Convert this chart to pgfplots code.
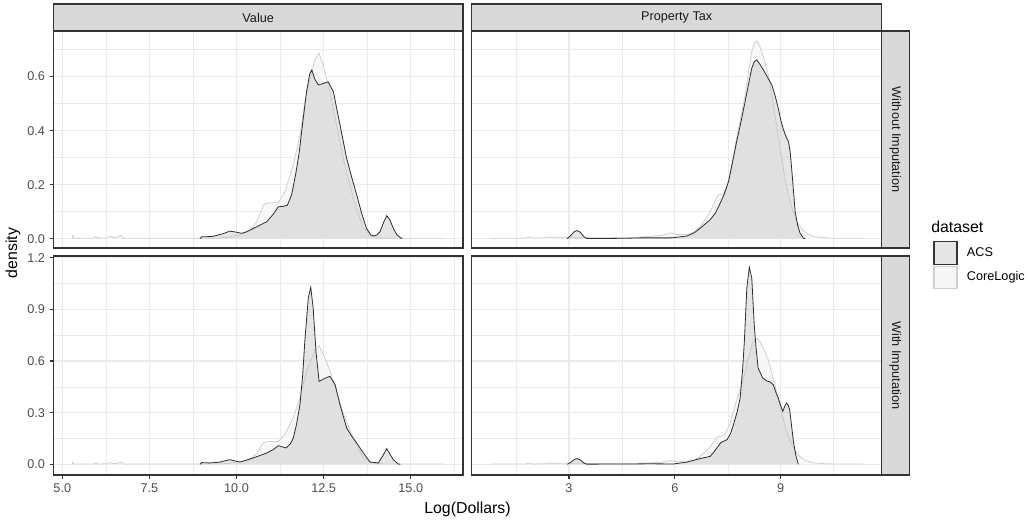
\documentclass[border=0pt]{standalone}
\usepackage{fontspec}
\setmainfont{Liberation Sans}
\usepackage{pgfplots}
\usepackage{pgfplotstable}
\pgfplotsset{compat=1.18}

\definecolor{gridc}{HTML}{EBEBEB}
\definecolor{border}{HTML}{333333}
\definecolor{ticklab}{HTML}{4D4D4D}
\definecolor{stripc}{HTML}{D9D9D9}
\definecolor{acsfill}{HTML}{BFBFBF}
\definecolor{acsline}{HTML}{2E2E2E}
\definecolor{clfill}{HTML}{F7F7F7}
\definecolor{clline}{HTML}{D0D0D0}

\pgfplotstableread{
x y
5.28 0.0
5.30 0.012
5.34 0.002
5.90 0.002
5.96 0.008
6.02 0.002
6.30 0.003
6.38 0.010
6.48 0.004
6.60 0.006
6.68 0.013
6.76 0.002
9.50 0.002
9.80 0.006
10.10 0.015
10.39 0.032
10.58 0.063
10.77 0.125
10.91 0.133
11.20 0.133
11.39 0.174
11.63 0.273
11.82 0.384
12.01 0.544
12.25 0.662
12.37 0.687
12.51 0.631
12.68 0.544
12.87 0.421
13.06 0.298
13.35 0.150
13.64 0.038
13.92 0.007
14.20 0.002
15.97 0.002
}\clV

\pgfplotstableread{
x y
8.95 0.0
9.00 0.007
9.30 0.008
9.60 0.018
9.81 0.028
10.00 0.024
10.15 0.020
10.30 0.026
10.48 0.038
10.67 0.050
10.87 0.063
11.05 0.090
11.20 0.118
11.35 0.120
11.46 0.124
11.58 0.162
11.70 0.240
11.80 0.320
11.90 0.430
12.01 0.544
12.10 0.610
12.16 0.625
12.25 0.590
12.35 0.569
12.50 0.575
12.63 0.581
12.78 0.544
12.97 0.421
13.16 0.298
13.30 0.230
13.45 0.162
13.60 0.090
13.73 0.038
13.85 0.015
13.92 0.010
14.02 0.013
14.12 0.026
14.22 0.060
14.31 0.085
14.40 0.070
14.50 0.038
14.60 0.015
14.69 0.005
14.75 0.0
}\acsVone

\pgfplotstableread{
x y
8.95 0.0
9.00 0.010
9.24 0.008
9.50 0.012
9.81 0.027
10.10 0.013
10.30 0.025
10.48 0.037
10.87 0.066
11.05 0.085
11.20 0.108
11.42 0.095
11.55 0.120
11.63 0.153
11.72 0.230
11.82 0.346
11.90 0.520
11.96 0.714
12.06 0.966
12.13 1.028
12.20 0.908
12.28 0.656
12.37 0.482
12.45 0.490
12.51 0.497
12.68 0.511
12.83 0.462
12.97 0.346
13.16 0.211
13.30 0.165
13.45 0.124
13.64 0.066
13.83 0.013
14.07 0.008
14.20 0.050
14.31 0.091
14.40 0.060
14.50 0.027
14.64 0.002
14.70 0.0
}\acsVtwo

\pgfplotstableread{
x y
0.77 0.002
1.75 0.002
1.86 0.007
1.97 0.002
2.40 0.004
2.50 0.006
2.60 0.003
2.70 0.006
2.80 0.003
4.80 0.003
5.20 0.008
5.39 0.010
5.60 0.012
5.80 0.018
5.91 0.022
6.05 0.015
6.34 0.015
6.55 0.025
6.71 0.044
6.85 0.070
7.00 0.100
7.12 0.135
7.23 0.162
7.37 0.165
7.46 0.190
7.56 0.236
7.65 0.300
7.75 0.372
7.87 0.450
7.99 0.532
8.09 0.620
8.18 0.693
8.26 0.725
8.32 0.732
8.39 0.720
8.46 0.693
8.55 0.655
8.65 0.606
8.74 0.535
8.84 0.458
8.93 0.375
9.03 0.298
9.12 0.225
9.22 0.162
9.34 0.105
9.46 0.063
9.60 0.035
9.74 0.020
9.90 0.010
10.11 0.005
10.50 0.002
11.34 0.002
}\clT

\pgfplotstableread{
x y
2.95 0.0
3.05 0.012
3.15 0.026
3.23 0.030
3.32 0.024
3.42 0.008
3.50 0.001
4.20 0.001
4.70 0.002
5.00 0.003
5.60 0.003
5.90 0.003
6.10 0.006
6.34 0.010
6.55 0.022
6.71 0.038
7.00 0.070
7.15 0.095
7.28 0.130
7.40 0.165
7.52 0.211
7.63 0.280
7.75 0.359
7.87 0.430
7.99 0.507
8.10 0.580
8.18 0.631
8.25 0.655
8.32 0.662
8.40 0.648
8.51 0.625
8.63 0.597
8.75 0.569
8.84 0.530
8.93 0.483
9.00 0.440
9.08 0.403
9.16 0.375
9.22 0.359
9.27 0.320
9.31 0.261
9.36 0.180
9.41 0.100
9.48 0.050
9.55 0.020
9.64 0.002
9.70 0.0
}\acsTone

\pgfplotstableread{
x y
2.95 0.0
3.05 0.012
3.15 0.028
3.23 0.033
3.32 0.025
3.42 0.008
3.50 0.001
4.73 0.002
5.30 0.003
5.96 0.002
6.34 0.013
6.71 0.033
7.00 0.046
7.10 0.070
7.19 0.095
7.30 0.125
7.37 0.133
7.48 0.143
7.58 0.180
7.66 0.230
7.76 0.300
7.85 0.385
7.92 0.550
7.97 0.714
8.04 1.024
8.11 1.144
8.18 1.082
8.25 0.811
8.30 0.680
8.36 0.559
8.49 0.501
8.60 0.485
8.70 0.478
8.79 0.462
8.86 0.420
8.93 0.385
9.00 0.340
9.06 0.308
9.12 0.340
9.17 0.356
9.22 0.340
9.26 0.308
9.31 0.220
9.36 0.133
9.43 0.050
9.50 0.0
}\acsTtwo

\newcommand\smallfont{\fontsize{9.5}{11}\selectfont}
\newcommand\bigfont{\fontsize{11.9}{14}\selectfont}

\pgfplotsset{
  facet/.style={
    scale only axis, anchor=south west,
    axis line style={border, line width=0.8pt},
    tick align=outside, major tick length=2.75pt, minor tick length=0pt,
    every tick/.style={border, line width=0.8pt},
    xtick pos=bottom, ytick pos=left,
    grid=both,
    major grid style={gridc, line width=0.8pt},
    minor grid style={gridc, line width=0.4pt},
    tick label style={font=\smallfont, text=ticklab},
    /pgf/number format/assume math mode=true,
  },
  valx/.style={xmin=4.742, xmax=16.5, xtick={5,7.5,10,12.5,15},
    minor xtick={6.25,8.75,11.25,13.75,16.25},
    xticklabel style={/pgf/number format/.cd, fixed, fixed zerofill, precision=1}},
  taxx/.style={xmin=0.242, xmax=11.863, xtick={3,6,9},
    minor xtick={1.5,4.5,7.5,10.5},
    xticklabel style={/pgf/number format/.cd, fixed, precision=0}},
  topy/.style={ymin=-0.0344, ymax=0.769, ytick={0,0.2,0.4,0.6},
    minor ytick={0.1,0.3,0.5,0.7},
    yticklabel style={/pgf/number format/.cd, fixed, fixed zerofill, precision=1}},
  boty/.style={ymin=-0.062, ymax=1.2096, ytick={0,0.3,0.6,0.9,1.2},
    minor ytick={0.15,0.45,0.75,1.05},
    yticklabel style={/pgf/number format/.cd, fixed, fixed zerofill, precision=1}},
  clf/.style={fill=clfill, draw=none},
  cll/.style={clline, line width=0.6pt},
  acsf/.style={fill=acsfill, fill opacity=0.4, draw=none},
  acsl/.style={acsline, line width=0.6pt},
}

\begin{document}
\begin{tikzpicture}
\path[use as bounding box] (0,0) rectangle (773.25pt,390pt);

% top-left
\begin{axis}[facet, valx, topy, at={(39.975pt,204pt)}, width=307.28pt, height=162.75pt, xmajorticks=false]
\addplot[clf] table {\clV} \closedcycle;
\addplot[cll] table {\clV};
\addplot[acsf] table {\acsVone} \closedcycle;
\addplot[acsl] table {\acsVone};
\end{axis}

% top-right
\begin{axis}[facet, taxx, topy, at={(353.78pt,204pt)}, width=307.5pt, height=162.75pt, xmajorticks=false, ymajorticks=false]
\addplot[clf] table {\clT} \closedcycle;
\addplot[cll] table {\clT};
\addplot[acsf] table {\acsTone} \closedcycle;
\addplot[acsl] table {\acsTone};
\end{axis}

% bottom-left
\begin{axis}[facet, valx, boty, at={(39.975pt,33.75pt)}, width=307.28pt, height=164.25pt]
\addplot[clf] table {\clV} \closedcycle;
\addplot[cll] table {\clV};
\addplot[acsf] table {\acsVtwo} \closedcycle;
\addplot[acsl] table {\acsVtwo};
\end{axis}

% bottom-right
\begin{axis}[facet, taxx, boty, at={(353.78pt,33.75pt)}, width=307.5pt, height=164.25pt, ymajorticks=false]
\addplot[clf] table {\clT} \closedcycle;
\addplot[cll] table {\clT};
\addplot[acsf] table {\acsTtwo} \closedcycle;
\addplot[acsl] table {\acsTtwo};
\end{axis}

\begin{scope}[x=0.75pt,y=0.75pt]
  % strips
  \draw[fill=stripc, draw=border, line width=0.8pt] (53.3,516) rectangle (463,489);
  \draw[fill=stripc, draw=border, line width=0.8pt] (471.7,516) rectangle (881.7,489);
  \draw[fill=stripc, draw=border, line width=0.8pt] (881.7,489) rectangle (909.3,272);
  \draw[fill=stripc, draw=border, line width=0.8pt] (881.7,264) rectangle (909.3,45);
  \node[font=\smallfont, text=black!90] at (258.2,502.5) {Value};
  \node[font=\smallfont, text=black!90] at (676.7,502.5) {Property Tax};
  \node[font=\smallfont, text=black!90, rotate=-90] at (895.5,380.5) {Without Imputation};
  \node[font=\smallfont, text=black!90, rotate=-90] at (895.5,154.5) {With Imputation};
  % axis titles
  \node[font=\bigfont, rotate=90] at (13,267) {density};
  \node[font=\bigfont] at (467.5,11) {Log(Dollars)};
  % legend
  \node[font=\bigfont, anchor=west, inner sep=0pt] at (931,293) {dataset};
  \draw[fill=black!10, draw=border, line width=0.8pt] (934,278.5) rectangle (957,255.5);
  \draw[fill=clfill, draw=clline, line width=0.8pt] (934,253.5) rectangle (957,231.5);
  \node[font=\smallfont, anchor=west, inner sep=0pt] at (966.7,267.5) {ACS};
  \node[font=\smallfont, anchor=west, inner sep=0pt] at (966.7,242.5) {CoreLogic};
\end{scope}
\end{tikzpicture}
\end{document}
